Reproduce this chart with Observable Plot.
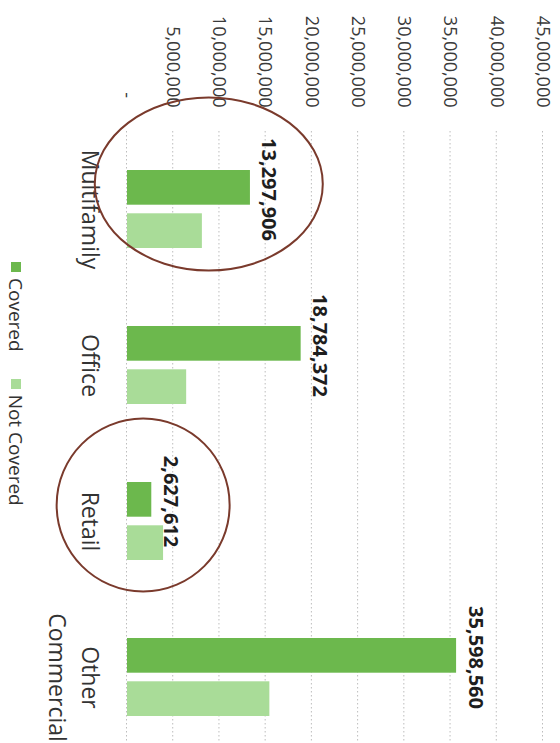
<!DOCTYPE html>
<html>
<head>
<meta charset="utf-8">
<script src="https://cdn.jsdelivr.net/npm/d3@7"></script>
<script src="https://cdn.jsdelivr.net/npm/@observablehq/plot@0.6"></script>
<style>
  html, body { margin: 0; padding: 0; background: #fff; overflow: hidden; }
  #page { position: relative; width: 560px; height: 743px; overflow: hidden; background: #fff; }
  #chart { position: absolute; left: 0; top: 0; width: 760px; height: 560px;
           transform-origin: 0 0; transform: translateX(560px) rotate(90deg); }
  #legend { position: absolute; left: 262px; top: 527px; }
  #legend > div { margin: 0 !important; }
  #legend span { margin-right: 27px !important; }
  #legend svg { margin-right: 6px !important; }
</style>
</head>
<body>
<div id="page"><div id="chart"></div></div>
<script>
// ---- data ----
const categories = ["Multifamily", "Office", "Retail", "Other Commercial"];
const series = ["Covered", "Not Covered"];
const coveredValues = [13297906, 18784372, 2627612, 35598560];
const notCoveredValues = [8100000, 6400000, 3900000, 15400000];
const yTicks = [0, 5000000, 10000000, 15000000, 20000000, 25000000, 30000000, 35000000, 40000000, 45000000];
const circledCategories = ["Multifamily", "Retail"];
const circleCentreValues = [8900000, 1800000];

const colors = ["#6cb84d", "#a9dc98"];
const fmt = d3.format(",");

const covered = categories.map((c, i) => ({category: c, series: series[0], value: coveredValues[i]}));
const notCovered = categories.map((c, i) => ({category: c, series: series[1], value: notCoveredValues[i]}));
const circles = circledCategories.map((c, i) => ({category: c, value: circleCentreValues[i]}));

function ellipse(aspect) {
  return {
    draw(ctx, size) {
      const rx = Math.sqrt(size / Math.PI), ry = rx * aspect, k = 0.5522847;
      ctx.moveTo(rx, 0);
      ctx.bezierCurveTo(rx, ry * k, rx * k, ry, 0, ry);
      ctx.bezierCurveTo(-rx * k, ry, -rx, ry * k, -rx, 0);
      ctx.bezierCurveTo(-rx, -ry * k, -rx * k, -ry, 0, -ry);
      ctx.bezierCurveTo(rx * k, -ry, rx, -ry * k, rx, 0);
      ctx.closePath();
    }
  };
}

const font = "'Open Sans', sans-serif";

const chart = Plot.plot({
  width: 760,
  height: 520,
  marginLeft: 131,
  marginRight: 5,
  marginTop: 17,
  marginBottom: 87,
  style: {fontFamily: font, background: "white", overflow: "visible"},
  x: {domain: categories, paddingInner: 0.5, paddingOuter: 0.25, axis: null},
  y: {domain: [0, 45000000], axis: null},
  color: {domain: series, range: colors},
  marks: [
    Plot.gridY(yTicks, {stroke: "#bdbdbd", strokeOpacity: 1, strokeDasharray: "1.5,2.5", strokeWidth: 1}),
    Plot.axisY(yTicks, {tickSize: 0, tickPadding: 24, fontSize: 18, color: "#3a3a3a",
      tickFormat: d => d === 0 ? "-\u00a0\u00a0" : fmt(d), label: null}),
    Plot.axisX({tickSize: 0, tickPadding: 22, fontSize: 23, color: "#333", lineHeight: 1.4,
      tickFormat: d => d === "Other Commercial" ? "Other\nCommercial" : d, label: null}),
    Plot.barY(covered, {x: "category", y: "value", fill: "series", insetRight: 43.3}),
    Plot.barY(notCovered, {x: "category", y: "value", fill: "series", insetLeft: 43.3}),
    Plot.text(covered, {x: "category", y: "value", text: d => fmt(d.value), dx: -20, dy: -13,
      lineAnchor: "bottom", fontSize: 20, fontWeight: 700, fill: "#1e1e1e"}),
    Plot.dot(circles.slice(0, 1), {x: "category", y: "value", r: 86.5, symbol: ellipse(1.318),
      dx: -25.5, stroke: "#7a3a2c", strokeWidth: 2, fill: "none"}),
    Plot.dot(circles.slice(1, 2), {x: "category", y: "value", r: 86.5, symbol: ellipse(1.0),
      dx: -16.5, stroke: "#7a3a2c", strokeWidth: 2, fill: "none"})
  ]
});

const container = document.getElementById("chart");
container.appendChild(chart);

const legend = Plot.legend({
  color: {type: "ordinal", domain: series, range: colors},
  swatchSize: 10,
  style: {fontSize: "19px", fontFamily: font, color: "#333", background: "transparent"}
});
const lg = document.createElement("div");
lg.id = "legend";
lg.appendChild(legend);
container.appendChild(lg);
</script>
</body>
</html>
